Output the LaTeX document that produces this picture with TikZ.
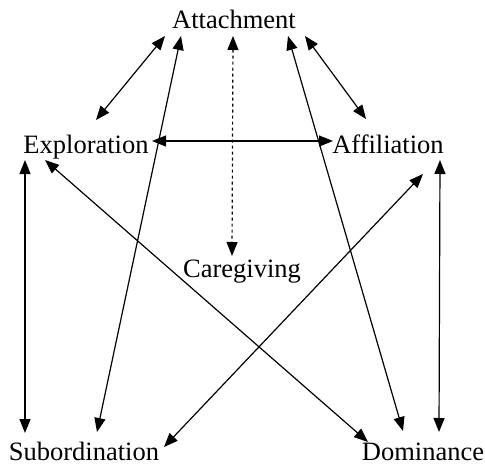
\documentclass[tikz,border=0pt]{standalone}
\usepackage{fontspec}
\setmainfont{Liberation Serif}
\usepackage{tikz}
\usetikzlibrary{arrows.meta}
\tikzstyle{motive}=[inner sep=0pt,anchor=base,font=\fontsize{26.5}{30}\selectfont]
\tikzstyle{link}=[line width=1.2pt,{Triangle[length=14pt,width=11pt]}-{Triangle[length=14pt,width=11pt]}]

\begin{document}
\begin{tikzpicture}[x=1pt,y=1pt]
      \useasboundingbox (0,0) rectangle (485,-466);

      \node[motive] (att) at (234,-28) {Attachment};
      \node[motive] (exp) at (86,-153) {Exploration};
      \node[motive] (aff) at (388,-153) {Affiliation};
      \node[motive] (care) at (242,-277) {Caregiving};
      \node[motive] (sub) at (84,-460) {Subordination};
      \node[motive] (dom) at (423,-460) {Dominance};

      \draw[link] ([xshift=-69pt,yshift=-8pt]att.base) -- ([xshift=10pt,yshift=33pt]exp.base);
      \draw[link] ([xshift=71pt,yshift=-8pt]att.base) -- ([xshift=-22pt,yshift=34pt]aff.base);
      \draw[link] ([xshift=66pt,yshift=12pt]exp.base) -- ([xshift=-55pt,yshift=12pt]aff.base);
      \draw[link,dashed] ([xshift=-1pt,yshift=-8pt]att.base) -- ([xshift=-10pt,yshift=21pt]care.base);
      \draw[link] ([xshift=-53pt,yshift=-8pt]att.base) -- ([xshift=13pt,yshift=28pt]sub.base);
      \draw[link] ([xshift=54pt,yshift=-8pt]att.base) -- ([xshift=-20pt,yshift=29pt]dom.base);

      \draw[link] ([xshift=-61pt,yshift=-7pt]exp.base) -- ([xshift=-59pt,yshift=27pt]sub.base);
      \draw[link] ([xshift=-41pt,yshift=-7pt]exp.base) -- ([xshift=-55pt,yshift=18pt]dom.base);
      \draw[link] ([xshift=52pt,yshift=-7pt]aff.base) -- ([xshift=16pt,yshift=28pt]dom.base);
      \draw[link] ([xshift=35pt,yshift=-21pt]aff.base) -- ([xshift=80pt,yshift=13pt]sub.base);

    \end{tikzpicture}
\end{document}
